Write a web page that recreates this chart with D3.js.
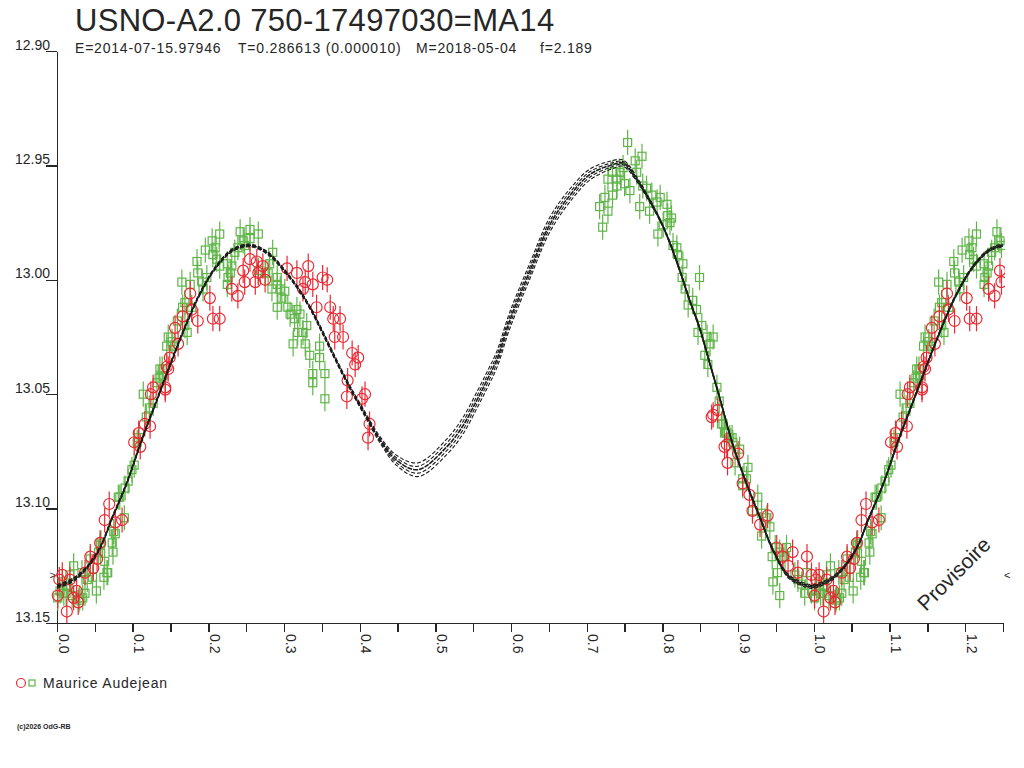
<!DOCTYPE html>
<html lang="fr">
<head>
  <meta charset="utf-8">
  <title>USNO-A2.0 750-17497030=MA14</title>
  <script src="https://d3js.org/d3.v7.min.js"></script>
  <style>
    body {
      margin: 0;
      padding: 0;
      background-color: #fff;
    }
    svg text {
      font-family: "Liberation Sans", Arial, sans-serif;
      fill: #262626;
    }
    .axis path, .axis line {
      stroke: #262626;
      stroke-width: 1.4;
      shape-rendering: crispEdges;
    }
  </style>
</head>
<body>
  <svg id="chart" width="1024" height="768"></svg>

  <script>
    // Chart texts
    const title = "USNO-A2.0 750-17497030=MA14";
    const subtitle = ["E=2014-07-15.97946", "T=0.286613 (0.000010)", "M=2018-05-04", "f=2.189"];
    const observer = "Maurice Audejean";
    const copyright = "(c)2026 OdG-RB";

    // Axis ticks
    const magTicks = [12.90, 12.95, 13.00, 13.05, 13.10, 13.15];
    const phaseTicks = [0, 0.05, 0.1, 0.15, 0.2, 0.25, 0.3, 0.35, 0.4, 0.45, 0.5, 0.55, 0.6,
                        0.65, 0.7, 0.75, 0.8, 0.85, 0.9, 0.95, 1.0, 1.05, 1.1, 1.15, 1.2, 1.25];
    const markMag = 13.129;   // level marked by > and <
    const fold = 0.25;        // phases below this are shown again one cycle later

    // Fitted light curve: [phase, mag, sigma]
    const fitCurve = [
      [0.000, 13.134, 0.0004], [0.022, 13.131, 0.0004], [0.040, 13.1255, 0.0003], [0.057, 13.117, 0.0003],
      [0.073, 13.104, 0.0003], [0.092, 13.089, 0.0003], [0.112, 13.070, 0.0003], [0.132, 13.0525, 0.0003],
      [0.152, 13.035, 0.0003], [0.170, 13.020, 0.0003], [0.189, 13.006, 0.0003], [0.211, 12.9940, 0.0003],
      [0.232, 12.987, 0.0003], [0.251, 12.985, 0.0003], [0.264, 12.9857, 0.0003], [0.281, 12.989, 0.0003],
      [0.298, 12.995, 0.0003], [0.317, 13.003, 0.0003], [0.334, 13.012, 0.0003], [0.351, 13.023, 0.0004],
      [0.370, 13.036, 0.0004], [0.387, 13.047, 0.0004], [0.404, 13.057, 0.0005], [0.427, 13.070, 0.0007],
      [0.449, 13.079, 0.0011], [0.477, 13.083, 0.0015], [0.515, 13.073, 0.0017], [0.536, 13.064, 0.0018],
      [0.555, 13.0525, 0.0018], [0.568, 13.044, 0.0018], [0.581, 13.035, 0.0018], [0.598, 13.018, 0.0018],
      [0.625, 12.996, 0.0017], [0.651, 12.976, 0.0016], [0.678, 12.963, 0.0014], [0.704, 12.954, 0.0012],
      [0.731, 12.950, 0.0009], [0.748, 12.949, 0.0007], [0.766, 12.956, 0.0005], [0.779, 12.963, 0.0004],
      [0.797, 12.974, 0.0003], [0.810, 12.984, 0.0003], [0.823, 12.996, 0.0003], [0.836, 13.009, 0.0003],
      [0.849, 13.021, 0.0003], [0.863, 13.037, 0.0003], [0.876, 13.052, 0.0003], [0.893, 13.072, 0.0003],
      [0.911, 13.089, 0.0003], [0.929, 13.104, 0.0003], [0.946, 13.118, 0.0003], [0.968, 13.130, 0.0004],
      [0.995, 13.134, 0.0004]
    ];
    const sigmaSteps = [-2, -1, 0, 1, 2];

    // Observations, green squares: [phase, mag]
    const greenObs = [
      [0.139, 13.039], [0.135, 13.043], [0.114, 13.050], [0.122, 13.056], [0.118, 13.060], [0.106, 13.071],
      [0.108, 13.069], [0.102, 13.081], [0.099, 13.083], [0.094, 13.088], [0.090, 13.091], [0.083, 13.095],
      [0.089, 13.104], [0.075, 13.110], [0.073, 13.115], [0.074, 13.119], [0.057, 13.116], [0.055, 13.119],
      [0.063, 13.123], [0.066, 13.128], [0.062, 13.130], [0.044, 13.122], [0.022, 13.125], [0.033, 13.128],
      [0.017, 13.129], [0.040, 13.131], [0.037, 13.137], [0.052, 13.136], [0.029, 13.140], [0.013, 13.134],
      [0.004, 13.136], [0.009, 13.137], [0.020, 13.138], [0.030, 13.139], [0.001, 13.139], [0.007, 13.132],
      [0.012, 13.137], [0.034, 13.139], [0.047, 13.130], [0.058, 13.115], [0.067, 13.128], [0.081, 13.095],
      [0.077, 13.111],
      [0.215, 12.980], [0.205, 12.983], [0.209, 12.986], [0.196, 12.987], [0.206, 12.989], [0.185, 12.992],
      [0.211, 12.991], [0.186, 12.997], [0.198, 12.999], [0.165, 13.001], [0.176, 13.002], [0.192, 13.001],
      [0.193, 13.004], [0.169, 13.010], [0.178, 13.012], [0.166, 13.012], [0.159, 13.018], [0.169, 13.020],
      [0.172, 13.023], [0.147, 13.025], [0.152, 13.027], [0.145, 13.029], [0.155, 13.029], [0.140, 13.042],
      [0.136, 13.039], [0.132, 13.045], [0.127, 13.054], [0.242, 12.979], [0.255, 12.978], [0.266, 12.980],
      [0.246, 12.983], [0.255, 12.982], [0.248, 12.985], [0.239, 12.986], [0.235, 12.988], [0.225, 12.993],
      [0.215, 12.994], [0.231, 12.994], [0.229, 12.997], [0.226, 12.999], [0.225, 13.002], [0.275, 12.997],
      [0.279, 12.997], [0.266, 12.996], [0.285, 12.988], [0.281, 12.993], [0.291, 12.999], [0.291, 13.002],
      [0.295, 13.004], [0.284, 13.004], [0.297, 13.008], [0.301, 13.005], [0.291, 13.012], [0.305, 13.012],
      [0.308, 13.015], [0.317, 13.013], [0.314, 13.017], [0.321, 13.015], [0.330, 13.020], [0.325, 13.023],
      [0.318, 13.023], [0.312, 13.028], [0.328, 13.028], [0.334, 13.033], [0.347, 13.029], [0.347, 13.034],
      [0.338, 13.041], [0.354, 13.041], [0.338, 13.045], [0.354, 13.052],
      [0.754, 12.940], [0.773, 12.946], [0.764, 12.948], [0.748, 12.951], [0.734, 12.953], [0.744, 12.953],
      [0.766, 12.953], [0.728, 12.956], [0.740, 12.956], [0.750, 12.958], [0.740, 12.959], [0.757, 12.961],
      [0.724, 12.964], [0.734, 12.963], [0.717, 12.968], [0.728, 12.970], [0.721, 12.977], [0.774, 12.959],
      [0.779, 12.960], [0.786, 12.963], [0.797, 12.964], [0.793, 12.966], [0.770, 12.968], [0.783, 12.970],
      [0.806, 12.967], [0.807, 12.972], [0.812, 12.973], [0.801, 12.976], [0.810, 12.975], [0.794, 12.980],
      [0.814, 12.985], [0.819, 12.986], [0.820, 12.989], [0.827, 12.993], [0.826, 12.999], [0.849, 12.999],
      [0.830, 13.004], [0.840, 13.009], [0.834, 13.011], [0.845, 13.013], [0.852, 13.020], [0.847, 13.023],
      [0.859, 13.025], [0.867, 13.025], [0.863, 13.028], [0.856, 13.033], [0.860, 13.037], [0.872, 13.047],
      [0.875, 13.053], [0.878, 13.063], [0.885, 13.067], [0.892, 13.069], [0.893, 13.071],
      [0.880, 13.063], [0.882, 13.067], [0.889, 13.069], [0.902, 13.074], [0.896, 13.080], [0.913, 13.082],
      [0.906, 13.087], [0.911, 13.087], [0.906, 13.090], [0.926, 13.095], [0.919, 13.101], [0.931, 13.102],
      [0.938, 13.104], [0.942, 13.108], [0.931, 13.112], [0.945, 13.121], [0.949, 13.117], [0.955, 13.119],
      [0.964, 13.117], [0.962, 13.121], [0.952, 13.128], [0.946, 13.132], [0.955, 13.138], [0.975, 13.129],
      [0.979, 13.131], [0.984, 13.133], [0.991, 13.128], [0.988, 13.137], [0.997, 13.136]
    ];

    // Observations, red circles: [phase, mag]
    const redObs = [
      [0.145, 13.038], [0.143, 13.047], [0.124, 13.050], [0.116, 13.063], [0.108, 13.067], [0.102, 13.071],
      [0.110, 13.073], [0.069, 13.098], [0.063, 13.105], [0.077, 13.106], [0.086, 13.105], [0.057, 13.115],
      [0.044, 13.121], [0.053, 13.122], [0.007, 13.129], [0.017, 13.131], [0.003, 13.131], [0.026, 13.136],
      [0.022, 13.139], [0.013, 13.145], [0.028, 13.141], [0.001, 13.138], [0.048, 13.126], [0.037, 13.128],
      [0.231, 13.004], [0.239, 13.007], [0.202, 13.008], [0.206, 13.017], [0.215, 13.017], [0.186, 13.018],
      [0.178, 13.013], [0.176, 13.006], [0.248, 13.001], [0.262, 13.001], [0.246, 12.996], [0.255, 12.991],
      [0.264, 12.992], [0.272, 12.994], [0.266, 12.997], [0.275, 13.000], [0.304, 12.995], [0.317, 12.997],
      [0.332, 12.994], [0.328, 13.001], [0.338, 13.002], [0.325, 13.004], [0.351, 12.999], [0.357, 13.000],
      [0.343, 13.012], [0.361, 13.012], [0.365, 13.017], [0.374, 13.017], [0.367, 13.025], [0.378, 13.025],
      [0.390, 13.032], [0.398, 13.034], [0.394, 13.037], [0.384, 13.044], [0.383, 13.051], [0.403, 13.052],
      [0.407, 13.050], [0.413, 13.063], [0.411, 13.069], [0.166, 13.016], [0.156, 13.021], [0.160, 13.028],
      [0.149, 13.034], [0.147, 13.039], [0.143, 13.048], [0.127, 13.047], [0.123, 13.064],
      [0.867, 13.059], [0.873, 13.057], [0.885, 13.072], [0.865, 13.060], [0.882, 13.073], [0.886, 13.080],
      [0.900, 13.076], [0.906, 13.089], [0.915, 13.094], [0.919, 13.101], [0.939, 13.103], [0.929, 13.107],
      [0.951, 13.117], [0.959, 13.121], [0.972, 13.119], [0.966, 13.125], [0.991, 13.121], [0.979, 13.128],
      [0.997, 13.129]
    ];
    const greenErr = 0.0055;
    const redErr = 0.0055;

    const greenColor = "#5fb548";
    const redColor = "#ea2a33";

    // Repeat the start of the cycle after phase 1
    function extend(arr, upTo) {
      return arr.concat(arr.filter(d => d[0] <= upTo).map(d => [d[0] + 1].concat(d.slice(1))))
        .sort((a, b) => a[0] - b[0]);
    }

    const svg = d3.select("#chart");
    svg.append("rect").attr("width", 1024).attr("height", 768).attr("fill", "#fff");

    const x = d3.scaleLinear().domain([0, 1.25]).range([57, 1003]);
    const y = d3.scaleLinear().domain([12.90, 13.15]).range([51, 623]);

    svg.append("clipPath").attr("id", "plot")
      .append("rect")
      .attr("x", x(0) - 8).attr("y", y(12.90))
      .attr("width", x(1.25) - x(0) + 10).attr("height", y(13.15) - y(12.90));
    svg.append("clipPath").attr("id", "fit")
      .append("rect")
      .attr("x", x(0)).attr("y", y(12.90))
      .attr("width", x(1.25) - x(0)).attr("height", y(13.15) - y(12.90));

    // Titles
    svg.append("text")
      .attr("x", 75).attr("y", 31)
      .style("font-size", "31px")
      .style("letter-spacing", "0.3px")
      .text(title);

    const subX = [75, 238, 416, 540];
    svg.selectAll(".sub")
      .data(subtitle)
      .join("text")
      .attr("class", "sub")
      .attr("x", (d, i) => subX[i]).attr("y", 53)
      .style("font-size", "14px")
      .style("letter-spacing", "0.8px")
      .text(d => d);

    // Y axis
    const yAxis = svg.append("g")
      .attr("class", "axis")
      .attr("transform", `translate(${x(0)},0)`)
      .call(d3.axisLeft(y).tickValues(magTicks).tickSize(11).tickSizeOuter(0).tickFormat(d3.format(".2f")));
    yAxis.selectAll("text")
      .attr("x", -7).attr("dy", "-2px")
      .attr("fill", "#262626")
      .style("font-size", "14px")
      .style("font-family", "'Liberation Sans', Arial, sans-serif");

    // X axis
    const xAxis = svg.append("g")
      .attr("class", "axis")
      .attr("transform", `translate(0,${y(13.15)})`)
      .call(d3.axisBottom(x).tickValues(phaseTicks).tickSize(9).tickSizeOuter(0).tickFormat(""));
    xAxis.selectAll(".tick")
      .filter(d => Math.abs(d * 10 - Math.round(d * 10)) < 1e-6 && d < 1.249)
      .append("text")
      .attr("transform", "translate(1,11) rotate(90)")
      .attr("text-anchor", "start")
      .attr("fill", "#262626")
      .style("font-size", "14px")
      .style("font-family", "'Liberation Sans', Arial, sans-serif")
      .text(d => d3.format(".1f")(d));

    // Level marks
    svg.append("text")
      .attr("x", x(0) - 1).attr("y", y(markMag) + 4)
      .attr("text-anchor", "end")
      .style("font-size", "11px")
      .text(">");
    svg.append("text")
      .attr("x", x(1.25) + 1).attr("y", y(markMag) + 4)
      .style("font-size", "11px")
      .text("<");

    const plot = svg.append("g").attr("clip-path", "url(#plot)");

    // Green observations
    const greenData = extend(greenObs, fold);
    plot.append("g")
      .selectAll("line")
      .data(greenData)
      .join("line")
      .attr("x1", d => x(d[0])).attr("x2", d => x(d[0]))
      .attr("y1", d => y(d[1] - greenErr)).attr("y2", d => y(d[1] + greenErr))
      .attr("stroke", greenColor)
      .attr("stroke-width", 1.2);
    plot.append("g")
      .selectAll("rect")
      .data(greenData)
      .join("rect")
      .attr("x", d => x(d[0]) - 4).attr("y", d => y(d[1]) - 4)
      .attr("width", 8).attr("height", 8)
      .attr("fill", "none")
      .attr("stroke", greenColor)
      .attr("stroke-width", 1.2);

    // Red observations
    const redData = extend(redObs, fold);
    plot.append("g")
      .selectAll("line")
      .data(redData)
      .join("line")
      .attr("x1", d => x(d[0])).attr("x2", d => x(d[0]))
      .attr("y1", d => y(d[1] - redErr)).attr("y2", d => y(d[1] + redErr))
      .attr("stroke", redColor)
      .attr("stroke-width", 1.2);
    plot.append("g")
      .selectAll("circle")
      .data(redData)
      .join("circle")
      .attr("cx", d => x(d[0])).attr("cy", d => y(d[1]))
      .attr("r", 5.5)
      .attr("fill", "none")
      .attr("stroke", redColor)
      .attr("stroke-width", 1.2);

    // Fitted curve with its envelope
    const curveData = extend(fitCurve, 0.3);
    svg.append("g")
      .attr("clip-path", "url(#fit)")
      .selectAll("path")
      .data(sigmaSteps)
      .join("path")
      .attr("d", k => d3.line()
        .x(d => x(d[0]))
        .y(d => y(d[1] + k * d[2]))
        .curve(d3.curveCatmullRom)(curveData))
      .attr("fill", "none")
      .attr("stroke", "#1c1c1c")
      .attr("stroke-width", k => k === 0 ? 1.6 : 1.1)
      .attr("stroke-dasharray", k => k === 0 ? "5,1" : "4,2");

    // Provisional stamp
    svg.append("text")
      .attr("transform", "translate(926,612) rotate(-45)")
      .style("font-size", "21px")
      .text("Provisoire");

    // Legend
    svg.append("circle")
      .attr("cx", 21).attr("cy", 683).attr("r", 4.5)
      .attr("fill", "none").attr("stroke", redColor).attr("stroke-width", 1.2);
    svg.append("rect")
      .attr("x", 29).attr("y", 680).attr("width", 6).attr("height", 6)
      .attr("fill", "none").attr("stroke", greenColor).attr("stroke-width", 1.2);
    svg.append("text")
      .attr("x", 43).attr("y", 688)
      .style("font-size", "14px")
      .style("letter-spacing", "0.8px")
      .text(observer);

    svg.append("text")
      .attr("x", 17).attr("y", 729)
      .style("font-size", "7px")
      .style("font-weight", "bold")
      .text(copyright);
  </script>
</body>
</html>
